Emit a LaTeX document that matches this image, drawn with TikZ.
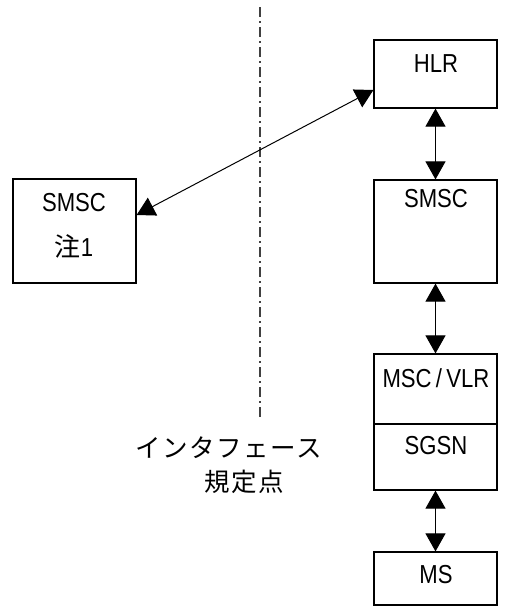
\documentclass[tikz,border=0pt]{standalone}
\usepackage{fontspec}
\setmainfont{Liberation Sans}[FakeStretch=0.85]
\newfontfamily\cjk{Noto Sans CJK JP}[LetterSpace=6]
\usetikzlibrary{arrows.meta}
\begin{document}
\begin{tikzpicture}[x=1pt,y=-1pt,
  box/.style={draw, line width=1.2pt, rectangle, inner sep=0pt},
  lbl/.style={font=\fontsize{26}{26}\selectfont, inner sep=0pt, anchor=center},
  jlbl/.style={font=\fontsize{25.5}{25.5}\selectfont\cjk, inner sep=0pt, anchor=center},
  arr/.style={line width=1pt, {Triangle[length=18pt,width=20pt]}-{Triangle[length=18pt,width=20pt]}},
  ifline/.style={line width=1.3pt, draw=black!75, dash pattern=on 10pt off 4pt on 2pt off 4pt}]
\useasboundingbox (0,0) rectangle (512,606);
% boxes
\node[box, minimum width=123pt, minimum height=68pt] (hlr) at (435.5,74) {};
\node[box, minimum width=123pt, minimum height=103pt] (smscR) at (435.5,231.5) {};
\node[box, minimum width=123pt, minimum height=70pt] (msc) at (435.5,389) {};
\node[box, minimum width=123pt, minimum height=66pt] (sgsn) at (435.5,457) {};
\node[box, minimum width=123pt, minimum height=53pt] (ms) at (435.5,578.5) {};
\node[box, minimum width=123pt, minimum height=104pt] (smscL) at (74.5,231) {};
% labels
\node[lbl] (thlr) at (436,64) {HLR};
\node[lbl] (tsmscR) at (436,199) {SMSC};
\node[lbl] (tmsc) at (436,378) {MSC\,/\,VLR};
\node[lbl] (tsgsn) at (436,446) {SGSN};
\node[lbl] (tms) at (436,575) {MS};
\node[lbl] (tsmscL) at (74,203) {SMSC};
\node[lbl] (tnote) at (74,246) {{\cjk 注}1};
% interface line
\coordinate (iftop) at (260,7);
\coordinate (ifbot) at (260,418);
\draw[ifline] (iftop) -- (ifbot);
\node[jlbl] (tif1) at (229,448) {インタフェース};
\node[jlbl] (tif2) at (244,482) {規定点};
% connectors
\draw[arr] (hlr.south) -- (smscR.north);
\draw[arr] (smscR.south) -- (msc.north);
\draw[arr] (sgsn.south) -- (ms.north);
\draw[arr] ([yshift=16pt]smscL.east) -- ([yshift=-16pt]hlr.west);
\end{tikzpicture}
\end{document}
